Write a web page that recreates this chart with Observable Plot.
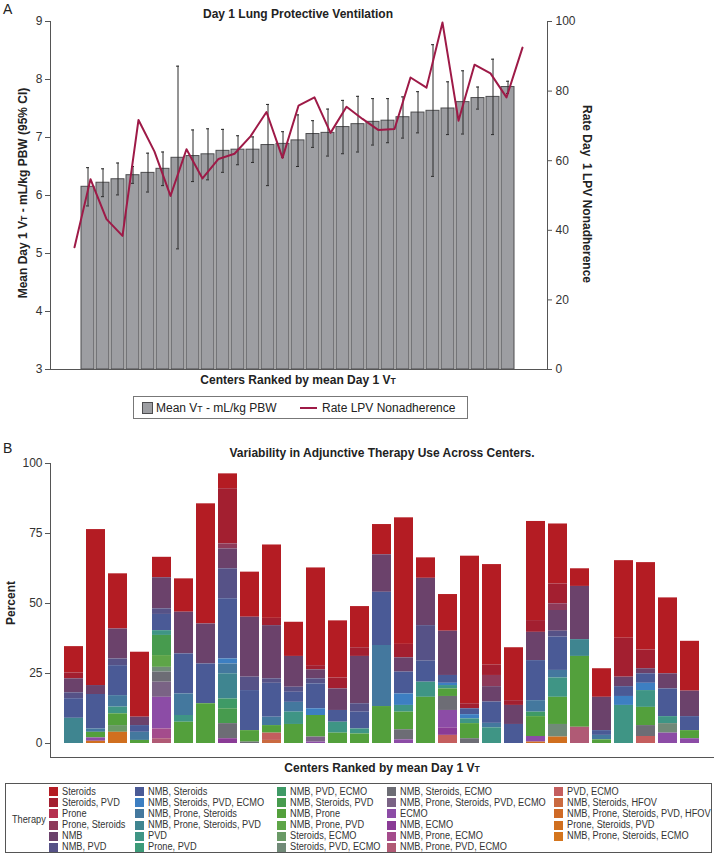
<!DOCTYPE html>
<html><head><meta charset="utf-8">
<script src="https://cdn.jsdelivr.net/npm/d3@7"></script>
<script src="https://cdn.jsdelivr.net/npm/@observablehq/plot@0.6"></script>
<style>
body{margin:0;background:#fff;}
#fig{position:relative;width:715px;height:857px;font-family:"Liberation Sans",Arial,Helvetica,sans-serif;color:#222;overflow:hidden;}
.t{position:absolute;white-space:nowrap;line-height:1;}
.c{transform:translate(-50%,-50%);}
.rl{transform:translate(-50%,-50%) rotate(-90deg);}
.rr{transform:translate(-50%,-50%) rotate(90deg);}
.b{font-weight:bold;}
.sub{font-size:0.72em;}
.plot{position:absolute;left:0;}
.box{position:absolute;border:1px solid #666;box-sizing:border-box;}
.lg{transform-origin:0 50%;transform:translateY(-50%) scaleX(0.92);font-size:10px;color:#333;}
</style></head><body><div id="fig"></div>
<script>
// ---------- Panel A data ----------
const centers = [1,2,3,4,5,6,7,8,9,10,11,12,13,14,15,16,17,18,19,20,21,22,23,24,25,26,27,28,29];
const meanVt = [6.15,6.22,6.28,6.35,6.39,6.46,6.65,6.68,6.71,6.77,6.79,6.79,6.87,6.89,6.95,7.06,7.08,7.18,7.23,7.27,7.29,7.35,7.43,7.46,7.50,7.61,7.68,7.70,7.87];
const ciLow  = [5.82,5.98,6.01,6.21,6.06,6.17,5.08,6.24,6.27,6.40,6.53,6.57,6.17,6.66,6.50,6.83,6.68,6.72,6.75,6.87,6.91,6.99,7.08,6.33,7.05,7.06,7.49,7.05,7.76];
const ciHigh = [6.48,6.46,6.56,6.50,6.73,6.75,8.23,7.13,7.15,7.14,7.03,7.01,7.57,7.10,7.39,7.29,7.49,7.64,7.71,7.67,7.67,7.70,7.79,8.60,7.96,8.15,7.87,8.35,7.97];
const nonadherence = [35.1,54.7,43.2,38.4,71.7,62.6,49.9,63.3,54.9,60.5,62.0,67.0,74.0,60.8,75.8,78.2,68.0,75.5,72.0,68.8,69.1,83.9,81.0,99.7,71.5,87.6,85.1,78.2,92.5];
const vtTicks = [3,4,5,6,7,8,9];
const rateTicks = [0,20,40,60,80,100];

// ---------- Panel B data ----------
const therapies = ["Steroids","Steroids, PVD","Prone","Prone, Steroids","NMB","NMB, PVD",
  "NMB, Steroids","NMB, Steroids, PVD, ECMO","NMB, Prone, Steroids","NMB, Prone, Steroids, PVD","PVD","Prone, PVD",
  "NMB, PVD, ECMO","NMB, Steroids, PVD","NMB, Prone","NMB, Prone, PVD","Steroids, ECMO","Steroids, PVD, ECMO",
  "NMB, Steroids, ECMO","NMB, Prone, Steroids, PVD, ECMO","ECMO","NMB, ECMO","NMB, Prone, ECMO","NMB, Prone, PVD, ECMO",
  "PVD, ECMO","NMB, Steroids, HFOV","NMB, Prone, Steroids, PVD, HFOV","Prone, Steroids, PVD","NMB, Prone, Steroids, ECMO"];
const therapyColors = ["#b41c23","#a31f30","#b5304f","#8e3a5a","#6b426b","#565287",
  "#4a5a96","#3d7fc2","#44789e","#3f8590","#3f9585","#3c9a78",
  "#3f9a66","#479b4e","#53a03c","#5ea548","#6a9a66","#718a78",
  "#6d6d75","#7a6385","#8c4ca6","#8a3b96","#a44c8c","#b05a75",
  "#c45e5e","#ca6a40","#cf6a26","#d06f1f","#d4751d"];
const pSteroids         = [9.4,55.7,19.7,23.2,7.3,11.9,42.9,5.3,16.1,26.2,12.2,34.9,20.4,14.7,10.8,45.2,7.3,13.1,52.7,35.8,18.9,35.4,21.4,6.3,10.2,27.7,31.2,27.1,17.8];
const pSteroidsPvd      = [2.1,0,0,0,0,0,0,19.7,0,2.6,0,1.5,3.9,3.1,0,4.8,0,0,1.8,3.8,1.7,4.2,7.1,0,0,13.9,6.7,0,0];
const pProne            = [0,0,0,0,0,0,0,0,0,0,0,0,0,0,0,0,0,0,0,0,0,0,0,0,0,0,0,0,0];
const pProneSteroids    = [0,0,0,0,0,0,0,1.8,0,0,0,0,0,0,0,0,0,0,0,4.0,0,0,2.4,0,0,0,0,0,0];
const pNmb              = [5.0,3.2,10.7,3.0,11.1,14.9,14.3,7.1,21.4,19.0,11.0,3.2,7.7,16.9,13.4,5.1,16.9,15.8,0,5.5,6.8,10.1,7.4,19.0,11.9,3.4,1.8,5.4,9.1];
const pNmbPvd           = [2.1,0,2.4,0,2.0,0,0,10.7,4.8,1.6,1.8,1.8,0,3.0,0,0,12.7,0,0,0,0,0,2.1,0,0,0,0,0,0];
const pNmbSteroids      = [7.0,12.3,10.7,2.4,5.8,14.3,14.2,21.5,14.3,12.1,3.6,8.9,4.2,6.0,19.0,7.8,7.5,2.8,2.1,7.6,6.8,14.3,11.9,0,1.7,3.5,3.4,9.9,5.0];
const pNmbSterPvdEcmo   = [0,0,0,0,0,0,0,1.8,0,0,0,2.4,0,0,0,4.1,0,0.8,1.5,0,0,0,0,0,0,3.2,2.6,0,0];
const pNmbProneSter     = [0,1.2,4.1,2.9,0,7.7,0,3.5,0,3.0,3.5,0,0,0,21.8,0,0,0,0,1.6,0,4.1,2.7,0,1.6,0,0,0,0];
const pNmbProneSterPvd  = [9.0,0,0,0,0,0,0,9.0,0,0,0,0,0,0,0,0,0,0,0,0,0,0,0,6.0,0,0,0,0,0];
const pPvd              = [0,0,2.4,0,1.7,2.4,0,0,0,0,4.4,0,3.9,1.8,0,2.4,5.4,1.2,1.7,5.6,0,0,6.9,0,0,13.6,6.0,2.5,0];
const pPronePvd         = [0,0,0,0,0,0,0,0,0,0,0,0,0,0,0,0,0,0,0,0,0,0,0,0,0,0,0,0,0];
const pNmbPvdEcmo       = [0,0,0,0,0,0,0,3.5,0,0,0,0,0,0,0,0,0,0,0,0,0,1.6,0,0,0,0,0,0,0];
const pNmbSterPvd       = [0,0,0,0,7.2,0,0,5.3,0,0,0,0,0,0,0,0,0,0,0,0,0,0,0,0,0,0,0,0,0];
const pNmbProne         = [0,2.0,4.2,1.1,0,7.6,14.2,0,4.1,2.7,6.8,7.7,3.7,3.4,13.2,6.3,16.5,2.7,5.4,0,0,7.1,9.7,25.3,1.3,0,6.5,0,2.9];
const pNmbPronePvd      = [0,0,0,0,4.2,0,0,0,0,0,0,0,0,0,0,0,0,0,0,0,0,0,0,0,0,0,0,0,0];
const pSterEcmo         = [0,0,2.4,0,0,0,0,0,0,0,0,0,0,0,0,0,0,0,0,0,0,0,0,0,0,0,0,0,0];
const pSterPvdEcmo      = [0,0,0,0,1.7,0,0,0,0,0,0,0,0,0,0,0,0,0,0,0,0,0,4.5,0,0,0,0,3.4,0];
const pNmbSterEcmo      = [0,0,0,0,3.6,0,0,5.4,0.5,0,0,0,0,0,0,3.6,0,5.0,1.7,0,0,0,0,0,0,0,3.9,0,0];
const pNmbProneSterPvdEcmo = [0,0,0,0,5.4,0,0,0,0,0,0,1.8,0,0,0,0,0,0,0,0,0,0,0,0,0,0,0,0,0];
const pEcmo             = [0,1.2,0,0,11.3,0,0,0,0,0,0,0.5,0,0,0,1.3,0,6.2,0,0,0,2.0,0,0,0,0,0,3.7,1.7];
const pNmbEcmo          = [0,0,0,0,0,0,0,1.7,0,0,0,0,0,0,0,0,0,2.7,0,0,0,0,0,0,0,0,0,0,0];
const pNmbProneEcmo     = [0,0,0,0,3.5,0,0,0,0,0,0,0,0,0,0,0,0,0,0,0,0,0,0,0,0,0,0,0,0];
const pNmbPronePvdEcmo  = [0,0,0,0,1.7,0,0,0,0,0,0,0,0,0,0,0,0,0,0,0,0,0,0,5.8,0,0,0,0,0];
const pPvdEcmo          = [0,0,0,0,0,0,0,0,0,2.6,0,0,0,0,0,0,0,2.9,0,0,0,0,0,0,0,0,2.5,0,0];
const pNmbSterHfov      = [0,0,0,0,0,0,0,0,0,1.1,0,0,0,0,0,0,0,0,0,0,0,0,0,0,0,0,0,0,0];
const pNmbProneSterPvdHfov = [0,0,0,0,0,0,0,0,0,0,0,0,0,0,0,0,0,0,0,0,0,0,0,0,0,0,0,0,0];
const pProneSterPvd     = [0,0.8,4.0,0,0,0,0,0,0,0,0,0,0,0,0,0,0,0,0,0,0,0.5,2.3,0,0,0,0,0,0];
const pNmbProneSterEcmo = [0,0,0,0,0,0,0,0,0,0,0,0,0,0,0,0,0,0,0,0,0,0,0,0,0,0,0,0,0];
const percentTicks = [0,25,50,75,100];

const therapyShares = [pSteroids,pSteroidsPvd,pProne,pProneSteroids,pNmb,pNmbPvd,
  pNmbSteroids,pNmbSterPvdEcmo,pNmbProneSter,pNmbProneSterPvd,pPvd,pPronePvd,
  pNmbPvdEcmo,pNmbSterPvd,pNmbProne,pNmbPronePvd,pSterEcmo,pSterPvdEcmo,
  pNmbSterEcmo,pNmbProneSterPvdEcmo,pEcmo,pNmbEcmo,pNmbProneEcmo,pNmbPronePvdEcmo,
  pPvdEcmo,pNmbSterHfov,pNmbProneSterPvdHfov,pProneSterPvd,pNmbProneSterEcmo];

// ---------- build ----------
const fig = document.getElementById("fig");
const FONT = '"Liberation Sans",Arial,Helvetica,sans-serif';
function txt(html, x, y, cls, extra) {
  const d = document.createElement("div");
  d.className = "t " + (cls || "");
  d.innerHTML = html;
  d.style.left = x + "px"; d.style.top = y + "px";
  if (extra) Object.assign(d.style, extra);
  fig.appendChild(d);
  return d;
}
function place(svg, top) {
  svg.classList.add("plot");
  svg.style.top = top + "px";
  fig.appendChild(svg);
}
const baseStyle = {fontFamily: FONT, fontSize: "12px", color: "#333", background: "transparent", overflow: "visible"};
const intFmt = d => String(d);

const rowsA = centers.map((c, i) => ({center: c, vt: meanVt[i], lo: ciLow[i], hi: ciHigh[i], rate: nonadherence[i]}));

const plotA = Plot.plot({
  width: 715, height: 372, marginLeft: 50, marginRight: 168, marginTop: 21, marginBottom: 3,
  style: baseStyle,
  x: {type: "band", domain: centers, paddingInner: 0.12, paddingOuter: 0, insetLeft: 18, insetRight: 19, axis: null},
  y: {domain: [3, 9], axis: null},
  marks: [
    Plot.barY(rowsA, {x: "center", y1: 3, y2: "vt", fill: "#9d9ea2", stroke: "#4d4d4f", strokeWidth: 1}),
    Plot.ruleX(rowsA, {x: "center", y1: "lo", y2: "hi", stroke: "#2a2a2a", strokeWidth: 1}),
    Plot.tickY(rowsA, {x: "center", y: "lo", stroke: "#2a2a2a", insetLeft: 5, insetRight: 5}),
    Plot.tickY(rowsA, {x: "center", y: "hi", stroke: "#2a2a2a", insetLeft: 5, insetRight: 5}),
    Plot.axisY({anchor: "left", ticks: vtTicks, tickFormat: intFmt, tickSize: 5, tickPadding: 3, label: null, stroke: "#555"}),
    Plot.frame({anchor: "left", stroke: "#555"}),
    Plot.frame({anchor: "bottom", stroke: "#555"})
  ]
});
place(plotA, 0);

const plotA2 = Plot.plot({
  width: 715, height: 372, marginLeft: 50, marginRight: 168, marginTop: 21, marginBottom: 3,
  style: baseStyle,
  x: {type: "point", domain: centers, padding: 0, insetLeft: 18, insetRight: 19, axis: null},
  y: {domain: [0, 100], axis: null},
  marks: [
    Plot.line(rowsA, {x: "center", y: "rate", stroke: "#9e1a47", strokeWidth: 2}),
    Plot.axisY({anchor: "right", ticks: rateTicks, tickFormat: intFmt, tickSize: 4, tickPadding: 4, label: null, stroke: "#555"}),
    Plot.frame({anchor: "right", stroke: "#555"})
  ]
});
place(plotA2, 0);

// Panel A texts
txt("A", 3, 2, "", {fontSize: "14px"});
txt("Day 1 Lung Protective Ventilation", 298, 14, "c b", {fontSize: "12px"});
txt('Mean Day 1 V<span class="sub">T</span> - mL/kg PBW (95% CI)', 23, 193, "rl b", {fontSize: "12px"});
txt("Rate Day&nbsp; 1 LPV Nonadherence", 587, 194, "rr b", {fontSize: "12px"});
txt('Centers Ranked by mean Day 1 V<span class="sub">T</span>', 298, 380, "c b", {fontSize: "12px"});
// Panel A legend
const boxA = document.createElement("div");
boxA.className = "box";
Object.assign(boxA.style, {left: "133px", top: "396px", width: "335px", height: "23px", borderColor: "#777"});
fig.appendChild(boxA);
const sq = document.createElement("div");
Object.assign(sq.style, {position: "absolute", left: "142px", top: "402px", width: "9px", height: "10px", background: "#9d9ea2", border: "1px solid #4d4d4f"});
fig.appendChild(sq);
txt('Mean V<span class="sub">T</span> - mL/kg PBW', 156, 408, "", {fontSize: "12px", transform: "translateY(-50%)"});
const ln = document.createElement("div");
Object.assign(ln.style, {position: "absolute", left: "300px", top: "407px", width: "17px", height: "2px", background: "#9e1a47"});
fig.appendChild(ln);
txt("Rate LPV Nonadherence", 322, 408, "", {fontSize: "12px", transform: "translateY(-50%)"});

// ---------- Panel B ----------
const rowsB = therapies.flatMap((t, j) => centers.map((c, i) => ({center: c, therapy: t, pct: therapyShares[j][i]})));
const plotB = Plot.plot({
  width: 715, height: 319, marginLeft: 50, marginRight: 2, marginTop: 23, marginBottom: 2,
  style: baseStyle,
  x: {type: "band", domain: centers, paddingInner: 0.12, paddingOuter: 0, insetLeft: 13, insetRight: 13, axis: null},
  y: {domain: [0, 100], insetBottom: 14, axis: null},
  color: {domain: therapies, range: therapyColors},
  marks: [
    Plot.barY(rowsB, {x: "center", y: "pct", fill: "therapy", order: therapies.slice().reverse()}),
    Plot.axisY({anchor: "left", ticks: percentTicks, tickFormat: intFmt, tickSize: 5, tickPadding: 3, label: null, stroke: "#555"}),
    Plot.frame({anchor: "left", stroke: "#555"}),
    Plot.frame({anchor: "bottom", stroke: "#555"})
  ]
});
place(plotB, 440);

txt("B", 3, 441, "", {fontSize: "14px"});
txt("Variability in Adjunctive Therapy Use Across Centers.", 382, 453, "c b", {fontSize: "12px"});
txt("Percent", 11, 603, "rl b", {fontSize: "12px"});
txt('Centers Ranked by mean Day 1 V<span class="sub">T</span>', 382, 768, "c b", {fontSize: "12px"});

const boxB = document.createElement("div");
boxB.className = "box";
Object.assign(boxB.style, {left: "5px", top: "783px", width: "707px", height: "70px", borderColor: "#555"});
fig.appendChild(boxB);
txt("Therapy", 12, 820, "lg");
const colX = [49, 135, 277, 387, 554];
therapies.forEach((t, j) => {
  const col = Math.floor(j / 6), row = j % 6;
  const cy = 791.7 + row * 11.1;
  const s = document.createElement("div");
  Object.assign(s.style, {position: "absolute", left: colX[col] + "px", top: (cy - 4.5) + "px", width: "9px", height: "9px", background: therapyColors[j]});
  fig.appendChild(s);
  txt(t, colX[col] + 13, cy, "lg");
});
</script></body></html>
